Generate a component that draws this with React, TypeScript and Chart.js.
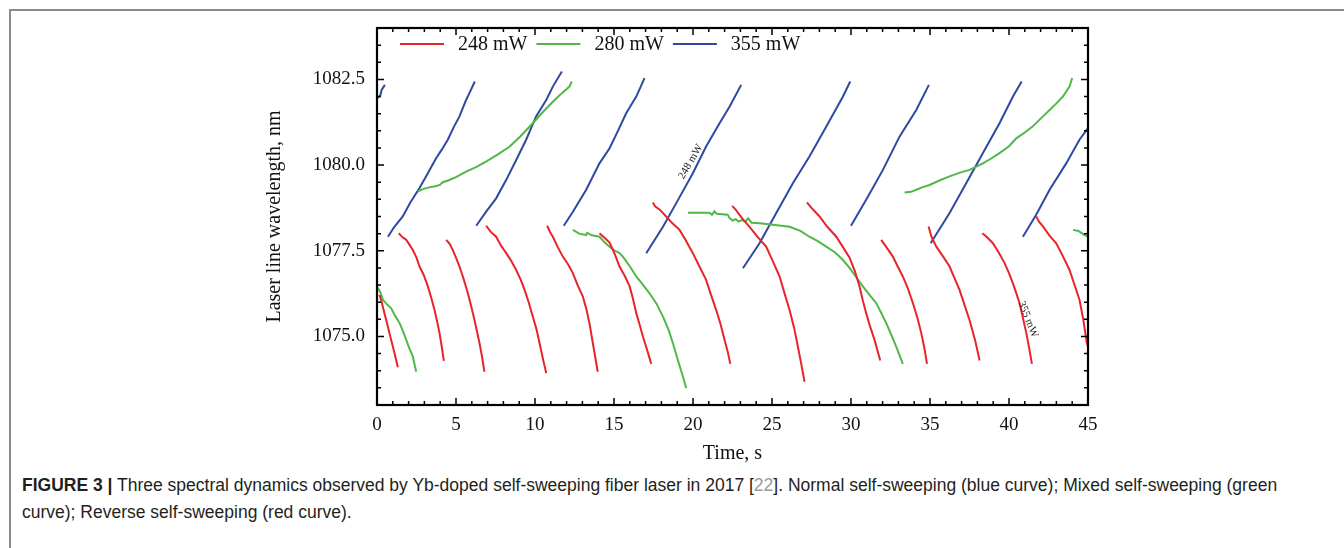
import React, { useEffect, useRef } from "react";
import { Chart, registerables } from "chart.js";
Chart.register(...registerables);

type Seg = [number, number][];

const seriesLabels = ["248 mW", "280 mW", "355 mW"];
const seriesColors = ["#e8242b", "#4fb848", "#2f48a0"];
const xTickValues = [0, 5, 10, 15, 20, 25, 30, 35, 40, 45];
const yTickValues = [1075, 1077.5, 1080, 1082.5];
const xTitle = "Time, s";
const yTitle = "Laser line wavelength, nm";

const red248: Seg[] = [
  [[0.16,1076.21],[0.3,1076.0],[0.47,1075.68],[0.63,1075.4],[0.79,1075.09],[0.95,1074.8],[1.11,1074.51],[1.32,1074.1]],
  [[1.38,1078.01],[1.6,1077.9],[1.85,1077.82],[2.05,1077.68],[2.27,1077.52],[2.5,1077.3],[2.69,1077.04],[2.95,1076.8],[3.22,1076.46],[3.45,1076.1],[3.64,1075.77],[3.8,1075.45],[3.96,1075.09],[4.1,1074.7],[4.23,1074.29]],
  [[4.38,1077.82],[4.6,1077.7],[4.8,1077.52],[5.0,1077.3],[5.22,1077.04],[5.5,1076.65],[5.75,1076.26],[5.95,1075.9],[6.17,1075.48],[6.35,1075.1],[6.49,1074.8],[6.65,1074.4],[6.8,1073.97]],
  [[6.91,1078.23],[7.2,1078.05],[7.54,1077.91],[7.85,1077.65],[8.18,1077.43],[8.5,1077.2],[8.81,1076.94],[9.1,1076.65],[9.34,1076.36],[9.6,1076.0],[9.86,1075.58],[10.1,1075.2],[10.29,1074.8],[10.5,1074.35],[10.71,1073.93]],
  [[10.77,1078.23],[10.95,1078.05],[11.13,1077.91],[11.45,1077.6],[11.76,1077.33],[12.1,1077.1],[12.4,1076.84],[12.7,1076.5],[13.03,1076.16],[13.25,1075.8],[13.45,1075.38],[13.7,1074.7],[13.97,1073.97]],
  [[14.08,1078.01],[14.4,1077.88],[14.72,1077.74],[15.05,1077.4],[15.35,1077.04],[15.7,1076.75],[15.99,1076.46],[16.2,1076.1],[16.41,1075.68],[16.62,1075.35],[16.83,1075.0],[17.1,1074.6],[17.36,1074.2]],
  [[17.46,1078.91],[17.6,1078.8],[17.9,1078.7],[18.3,1078.5],[18.7,1078.3],[19.15,1078.11],[19.55,1077.8],[19.99,1077.43],[20.4,1077.05],[20.83,1076.65],[21.15,1076.2],[21.47,1075.77],[21.75,1075.35],[22.0,1074.9],[22.2,1074.55],[22.36,1074.2]],
  [[22.48,1078.81],[22.7,1078.7],[23.1,1078.45],[23.58,1078.2],[24.1,1077.9],[24.63,1077.62],[25.05,1077.2],[25.48,1076.75],[25.8,1076.25],[26.11,1075.77],[26.4,1075.25],[26.64,1074.7],[26.85,1074.2],[27.06,1073.68]],
  [[27.21,1078.91],[27.5,1078.75],[28.01,1078.5],[28.5,1078.2],[29.07,1077.91],[29.5,1077.6],[29.91,1077.3],[30.25,1076.9],[30.54,1076.46],[30.75,1076.05],[30.96,1075.68],[31.2,1075.3],[31.49,1074.9],[31.85,1074.3]],
  [[31.91,1077.82],[32.25,1077.6],[32.65,1077.33],[32.95,1077.05],[33.28,1076.75],[33.6,1076.4],[33.92,1075.97],[34.2,1075.55],[34.45,1075.09],[34.65,1074.65],[34.81,1074.2]],
  [[34.91,1078.21],[35.1,1077.9],[35.4,1077.62],[35.8,1077.35],[36.24,1077.04],[36.55,1076.7],[36.87,1076.36],[37.2,1075.9],[37.5,1075.48],[37.85,1074.9],[38.14,1074.3]],
  [[38.31,1078.01],[38.6,1077.9],[38.98,1077.72],[39.35,1077.45],[39.72,1077.14],[40.0,1076.85],[40.25,1076.55],[40.47,1076.25],[40.67,1075.97],[40.9,1075.5],[41.1,1075.09],[41.3,1074.6],[41.45,1074.2]],
  [[41.72,1078.5],[41.9,1078.35],[42.15,1078.21],[42.55,1077.95],[42.99,1077.72],[43.4,1077.35],[43.83,1076.94],[44.15,1076.5],[44.46,1076.07],[44.7,1075.5],[44.93,1074.8],[45.0,1074.72]],
];

const green280: Seg[] = [
  [[0.0,1076.46],[0.2,1076.3],[0.38,1076.07],[0.6,1075.95],[0.9,1075.82],[1.15,1075.6],[1.43,1075.39],[1.65,1075.15],[1.85,1074.9],[2.05,1074.65],[2.27,1074.41],[2.48,1073.97]],
  [[2.58,1079.23],[2.9,1079.3],[3.3,1079.35],[3.7,1079.38],[4.0,1079.43],[4.16,1079.5],[4.5,1079.55],[5.0,1079.65],[5.64,1079.81],[6.3,1079.95],[6.9,1080.1],[7.6,1080.3],[8.4,1080.54],[9.1,1080.85],[9.86,1081.22],[10.5,1081.55],[11.13,1081.85],[11.7,1082.1],[12.18,1082.29],[12.33,1082.44]],
  [[12.4,1078.11],[12.8,1078.0],[13.24,1077.96],[13.3,1078.02],[13.6,1077.95],[14.08,1077.91],[14.4,1077.75],[14.72,1077.62],[15.05,1077.5],[15.35,1077.43],[15.56,1077.33],[16.0,1077.05],[16.41,1076.75],[16.85,1076.5],[17.25,1076.26],[17.7,1075.95],[18.1,1075.58],[18.45,1075.2],[18.73,1074.8],[19.05,1074.3],[19.36,1073.83],[19.57,1073.49]],
  [[19.68,1078.61],[20.5,1078.61],[21.05,1078.61],[21.2,1078.55],[21.35,1078.65],[21.5,1078.58],[22.2,1078.55],[22.32,1078.45],[22.5,1078.38],[22.7,1078.42],[22.9,1078.35],[23.1,1078.4],[23.3,1078.35],[23.5,1078.45],[23.7,1078.32],[24.21,1078.3],[25.2,1078.25],[26.11,1078.2],[26.8,1078.08],[27.37,1077.91],[27.9,1077.78],[28.43,1077.62],[29.0,1077.45],[29.49,1077.23],[29.91,1077.0],[30.3,1076.75],[30.75,1076.46],[31.2,1076.2],[31.6,1075.97],[31.9,1075.7],[32.23,1075.39],[32.55,1075.05],[32.86,1074.7],[33.28,1074.2]],
  [[33.39,1079.2],[33.8,1079.22],[34.13,1079.28],[34.5,1079.35],[34.97,1079.42],[35.6,1079.55],[36.24,1079.67],[36.9,1079.78],[37.5,1079.86],[38.35,1080.05],[38.9,1080.2],[39.4,1080.35],[40.0,1080.55],[40.46,1080.78],[41.0,1080.95],[41.51,1081.13],[42.1,1081.4],[42.57,1081.61],[43.0,1081.8],[43.41,1082.0],[43.83,1082.29],[44.0,1082.54]],
  [[44.05,1078.11],[44.4,1078.08],[44.7,1077.98],[45.0,1077.91]],
];

const blue355: Seg[] = [
  [[0.0,1081.95],[0.2,1082.02],[0.3,1082.2],[0.5,1082.34]],
  [[0.69,1077.91],[1.1,1078.2],[1.63,1078.5],[2.1,1078.9],[2.69,1079.33],[3.2,1079.75],[3.74,1080.2],[4.1,1080.45],[4.48,1080.74],[4.85,1081.1],[5.22,1081.42],[5.64,1081.9],[5.85,1082.1],[6.19,1082.44]],
  [[6.28,1078.23],[6.91,1078.64],[7.54,1079.03],[8.18,1079.57],[8.81,1080.15],[9.44,1080.74],[10.07,1081.42],[10.71,1081.9],[11.13,1082.29],[11.7,1082.73]],
  [[11.82,1078.23],[12.4,1078.64],[13.24,1079.28],[14.08,1080.05],[14.72,1080.49],[15.25,1081.0],[15.77,1081.51],[16.41,1082.0],[16.93,1082.54]],
  [[17.04,1077.43],[18.1,1078.2],[18.94,1078.89],[19.99,1079.76],[20.83,1080.54],[21.68,1081.22],[22.32,1081.71],[23.05,1082.34]],
  [[23.16,1076.99],[24.21,1077.72],[25.27,1078.6],[26.32,1079.47],[27.37,1080.25],[28.43,1081.12],[29.49,1082.0],[29.95,1082.44]],
  [[30.0,1078.23],[30.96,1078.99],[32.02,1079.86],[33.07,1080.83],[34.13,1081.61],[34.93,1082.34]],
  [[35.04,1077.72],[36.24,1078.6],[37.29,1079.47],[38.35,1080.35],[39.4,1081.22],[40.25,1082.0],[40.8,1082.44]],
  [[40.88,1077.91],[41.72,1078.55],[42.57,1079.28],[43.62,1080.05],[44.46,1080.74],[45.0,1081.08]],
];

const annotationTexts = ["248 mW", "355 mW"];
const annotationAt: [number, number][] = [[19.85, 1080.1], [41.2, 1075.5]];
const annotationAngles = [-60, 68];

const SERIF = "'Liberation Serif', 'Times New Roman', serif";

function toData(segs: Seg[]) {
  const out: { x: number; y: number | null }[] = [];
  segs.forEach((s, i) => {
    s.forEach(([x, y]) => out.push({ x, y }));
    if (i < segs.length - 1) out.push({ x: s[s.length - 1][0], y: null });
  });
  return out;
}

const framePlugin = {
  id: "frameTicks",
  afterDraw(chart: any) {
    const { ctx, chartArea: a, scales } = chart;
    const xs = scales.x, ys = scales.y;
    ctx.save();
    ctx.strokeStyle = "#000";
    ctx.lineWidth = 1.5;
    for (let t = 0; t <= 45; t += 1) {
      const px = xs.getPixelForValue(t);
      const len = t % 5 === 0 ? 7 : 4;
      ctx.beginPath();
      ctx.moveTo(px, a.bottom); ctx.lineTo(px, a.bottom - len);
      ctx.moveTo(px, a.top); ctx.lineTo(px, a.top + len);
      ctx.stroke();
    }
    for (let v = 1073.5; v < 1084; v += 0.5) {
      const py = ys.getPixelForValue(v);
      const len = Math.abs(((v - 1075) / 2.5) % 1) < 1e-6 ? 7 : 4;
      ctx.beginPath();
      ctx.moveTo(a.left, py); ctx.lineTo(a.left + len, py);
      ctx.moveTo(a.right, py); ctx.lineTo(a.right - len, py);
      ctx.stroke();
    }
    ctx.lineWidth = 2.2;
    ctx.strokeRect(a.left, a.top, a.right - a.left, a.bottom - a.top);

    // legend
    ctx.font = `20px ${SERIF}`;
    ctx.textBaseline = "middle";
    ctx.textAlign = "left";
    let x0 = a.left + 23;
    const ly = a.top + 16;
    chart.data.datasets.forEach((ds: any) => {
      ctx.strokeStyle = ds.borderColor;
      ctx.lineWidth = 2;
      ctx.beginPath();
      ctx.moveTo(x0, ly); ctx.lineTo(x0 + 44, ly);
      ctx.stroke();
      ctx.fillStyle = "#111";
      const tx = x0 + 44 + 14;
      ctx.fillText(ds.label, tx, ly + 1);
      x0 = tx + ctx.measureText(ds.label).width + 9;
    });

    // annotations
    ctx.font = `11px ${SERIF}`;
    ctx.textAlign = "center";
    ctx.fillStyle = "#222";
    annotationTexts.forEach((txt, i) => {
      const px = xs.getPixelForValue(annotationAt[i][0]);
      const py = ys.getPixelForValue(annotationAt[i][1]);
      ctx.save();
      ctx.translate(px, py);
      ctx.rotate((annotationAngles[i] * Math.PI) / 180);
      ctx.fillText(txt, 0, 0);
      ctx.restore();
    });
    ctx.restore();
  },
};

export default function App() {
  const ref = useRef<HTMLCanvasElement>(null);
  useEffect(() => {
    if (!ref.current) return;
    const all = [red248, green280, blue355];
    const chart = new Chart(ref.current, {
      type: "scatter",
      data: {
        datasets: all.map((segs, i) => ({
          label: seriesLabels[i],
          data: toData(segs),
          showLine: true,
          spanGaps: false,
          borderColor: seriesColors[i],
          backgroundColor: seriesColors[i],
          borderWidth: 2,
          pointRadius: 0,
          tension: 0,
        })),
      },
      options: {
        responsive: false,
        animation: false,
        layout: { padding: { left: 250, right: 256, top: 28, bottom: 0 } },
        plugins: { legend: { display: false }, tooltip: { enabled: false } },
        scales: {
          x: {
            type: "linear",
            min: 0,
            max: 45,
            afterBuildTicks: (s: any) => { s.ticks = xTickValues.map((v) => ({ value: v })); },
            afterFit: (s: any) => { s.height = 65; },
            ticks: { color: "#111", font: { family: SERIF, size: 19 }, padding: 9, maxRotation: 0, autoSkip: false },
            grid: { display: false, drawTicks: false },
            border: { display: false },
            title: { display: true, text: xTitle, color: "#111", font: { family: SERIF, size: 20 }, padding: { top: 0, bottom: 4 } },
          },
          y: {
            type: "linear",
            min: 1073,
            max: 1084,
            afterBuildTicks: (s: any) => { s.ticks = yTickValues.map((v) => ({ value: v })); },
            afterFit: (s: any) => { s.width = 127; },
            ticks: { color: "#111", font: { family: SERIF, size: 19 }, padding: 12, callback: (v: any) => Number(v).toFixed(1) },
            grid: { display: false, drawTicks: false },
            border: { display: false },
            title: { display: true, text: yTitle, color: "#111", font: { family: SERIF, size: 20 }, padding: { top: 13, bottom: 0 } },
          },
        },
      },
      plugins: [framePlugin],
    } as any);
    return () => chart.destroy();
  }, []);

  return (
    <div style={{ position: "absolute", left: 0, top: 0, width: 1344, height: 548, overflow: "hidden", background: "#fff" }}>
      <div style={{ position: "absolute", left: 9, top: 9, width: 1400, height: 600, borderTop: "2px solid #8a8a8a", borderLeft: "2px solid #8a8a8a" }} />
      <canvas ref={ref} width={1344} height={470} style={{ position: "absolute", left: 0, top: 0 }} />
      <div style={{ position: "absolute", left: 22, top: 472, fontFamily: "'Liberation Sans', Arial, sans-serif", fontSize: 17.5, lineHeight: "27px", color: "#231f20", whiteSpace: "nowrap" }}>
        <b>FIGURE 3 |</b> Three spectral dynamics observed by Yb-doped self-sweeping fiber laser in 2017 [<span style={{ color: "#9a9a9a" }}>22</span>]. Normal self-sweeping (blue curve); Mixed self-sweeping (green
        <br />
        curve); Reverse self-sweeping (red curve).
      </div>
    </div>
  );
}
